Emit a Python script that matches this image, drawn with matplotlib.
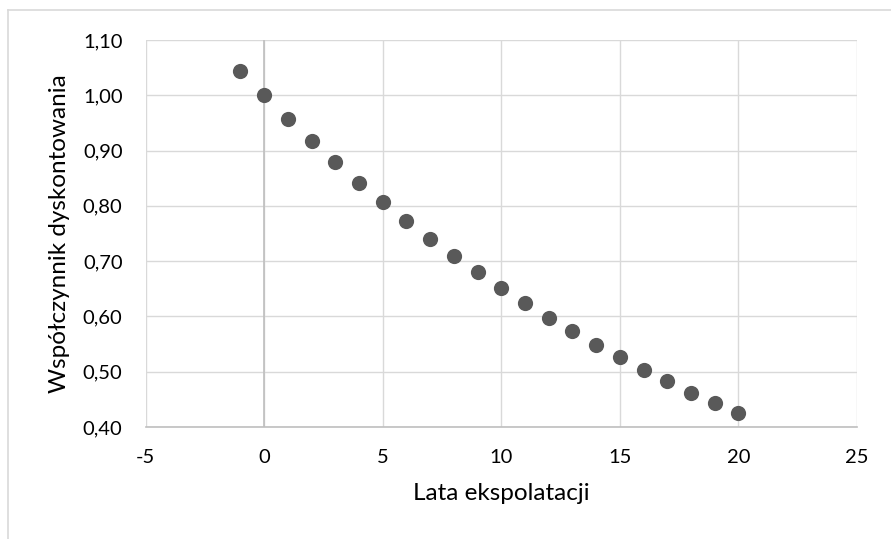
import matplotlib
matplotlib.use("Agg")
import matplotlib.pyplot as plt
from matplotlib.lines import Line2D
from matplotlib.ticker import FuncFormatter, MultipleLocator

years = [-1, 0, 1, 2, 3, 4, 5, 6, 7, 8, 9, 10, 11, 12, 13, 14, 15, 16, 17, 18, 19, 20]
factors = [1.044, 1.000, 0.958, 0.918, 0.879, 0.842, 0.807, 0.773, 0.740, 0.709,
           0.680, 0.652, 0.624, 0.598, 0.573, 0.549, 0.526, 0.504, 0.483, 0.462,
           0.443, 0.425]
x_label = "Lata ekspolatacji"
y_label = "Współczynnik dyskontowania"

plt.rcParams['font.family'] = ['Lato', 'DejaVu Sans']
plt.rcParams['axes.unicode_minus'] = False

W, H = 891, 539
fig = plt.figure(figsize=(W / 100, H / 100), dpi=100)
ax = fig.add_axes([145.5 / W, 1 - 427 / H, (857 - 145.5) / W, (427 - 40) / H])

ax.set_xlim(-5, 25)
ax.set_ylim(0.40, 1.10)
ax.xaxis.set_major_locator(MultipleLocator(5))
ax.yaxis.set_major_locator(MultipleLocator(0.1))
ax.yaxis.set_major_formatter(FuncFormatter(lambda v, p: f"{v:.2f}".replace(".", ",")))

ax.grid(True, color="#d9d9d9", linewidth=1.0)
ax.set_axisbelow(True)
for s in ["top", "right", "left"]:
    ax.spines[s].set_visible(False)
ax.spines["bottom"].set_color("#bfbfbf")
ax.spines["bottom"].set_linewidth(1.2)
ax.axvline(0, color="#bfbfbf", linewidth=1.2, zorder=1)
ax.tick_params(length=0, labelsize=14.5, colors="black")
ax.tick_params(axis="x", pad=16)
ax.tick_params(axis="y", pad=16.5)

ax.scatter(years, factors, s=120, color="#595959", zorder=3, linewidths=0)

ax.set_xlabel(x_label, fontsize=17.5, labelpad=12)
ax.set_ylabel(y_label, fontsize=17.5, labelpad=9)

fig.add_artist(Line2D([7.5 / W, 7.5 / W], [0, 1 - 10 / H], color="#d9d9d9", linewidth=1.2,
                      transform=fig.transFigure))
fig.add_artist(Line2D([7.5 / W, 1], [1 - 10 / H, 1 - 10 / H], color="#d9d9d9", linewidth=1.2,
                      transform=fig.transFigure))

fig.savefig("out.png", dpi=100)
